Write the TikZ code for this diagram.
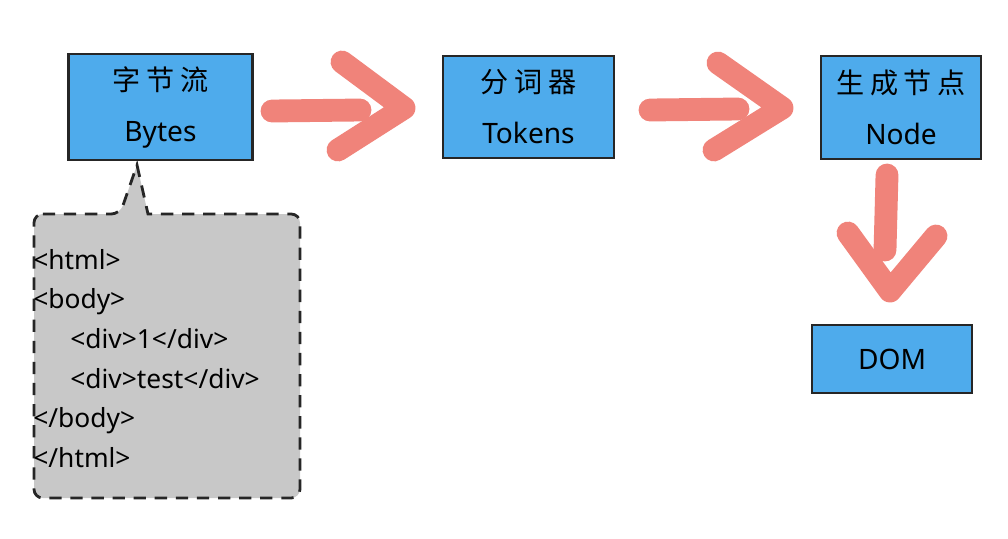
\documentclass[tikz,border=0pt]{standalone}
\usepackage{fontspec}
\setmainfont{Noto Sans}
\newfontfamily\cjk[LetterSpace=20]{Noto Sans CJK SC}
\usetikzlibrary{backgrounds}
\pgfdeclarelayer{edgelayer}
\pgfdeclarelayer{nodelayer}
\pgfsetlayers{edgelayer,nodelayer,main}
\definecolor{boxblue}{RGB}{78,171,236}
\definecolor{brushred}{RGB}{240,131,122}
\definecolor{notegray}{RGB}{200,200,200}
\tikzset{font=\fontsize{16}{19}\selectfont}
\tikzstyle{none}=[inner sep=0pt]
\tikzstyle{box}=[rectangle,draw=black!85,line width=1.6pt,fill=boxblue,align=center,inner sep=0pt]
\tikzstyle{code}=[anchor=mid west,inner sep=0pt,font=\fontsize{15}{18}\selectfont]
\tikzstyle{brush}=[draw=brushred,line width=13pt,line cap=round,line join=round]
\tikzstyle{note}=[draw=black!85,fill=notegray,line width=1.6pt,dash pattern=on 7pt off 5pt]

\begin{document}
\begin{tikzpicture}
	\useasboundingbox (0,0) rectangle (20.16,-10.76);
	\begin{pgfonlayer}{nodelayer}
		\node [style=box, minimum width=3.68cm, minimum height=2.12cm] (0) at (3.21, -2.14) {{\cjk 字节流}\\[10pt]Bytes};
		\node [style=box, minimum width=3.42cm, minimum height=2.04cm] (1) at (10.57, -2.14) {{\cjk 分词器}\\[10pt]Tokens};
		\node [style=box, minimum width=3.2cm, minimum height=2.06cm] (2) at (18.02, -2.15) {{\cjk 生成节点}\\[10pt]Node};
		\node [style=box, minimum width=3.2cm, minimum height=1.36cm] (3) at (17.84, -7.18) {DOM};
		\node [style=none] (4) at (0.68, -4.28) {};
		\node [style=none] (5) at (2.40, -4.28) {};
		\node [style=none] (6) at (2.74, -3.30) {};
		\node [style=none] (7) at (2.96, -4.28) {};
		\node [style=none] (8) at (6.00, -4.28) {};
		\node [style=none] (9) at (6.00, -9.96) {};
		\node [style=none] (10) at (0.68, -9.96) {};
		\node [style=none] (11) at (5.44, -2.22) {};
		\node [style=none] (12) at (7.20, -2.20) {};
		\node [style=none] (13) at (6.84, -1.24) {};
		\node [style=none] (14) at (8.08, -2.16) {};
		\node [style=none] (15) at (6.76, -3.00) {};
		\node [style=none] (16) at (13.00, -2.20) {};
		\node [style=none] (17) at (14.76, -2.18) {};
		\node [style=none] (18) at (14.36, -1.26) {};
		\node [style=none] (19) at (15.64, -2.16) {};
		\node [style=none] (20) at (14.28, -3.00) {};
		\node [style=none] (21) at (17.74, -3.50) {};
		\node [style=none] (22) at (17.70, -5.00) {};
		\node [style=none] (23) at (16.96, -4.66) {};
		\node [style=none] (24) at (17.80, -5.82) {};
		\node [style=none] (25) at (18.72, -4.72) {};
	\end{pgfonlayer}
	\begin{pgfonlayer}{edgelayer}
		\draw [style=note, rounded corners=5pt] (4.center) to (5.center) [sharp corners] -- (6.center) -- (7.center) [rounded corners=5pt] -- (8.center) -- (9.center) -- (10.center) -- cycle;
		\draw [style=brush] (11.center) to (12.center);
		\draw [style=brush] (13.center) -- (14.center) -- (15.center);
		\draw [style=brush] (16.center) to (17.center);
		\draw [style=brush] (18.center) -- (19.center) -- (20.center);
		\draw [style=brush] (21.center) to (22.center);
		\draw [style=brush] (23.center) -- (24.center) -- (25.center);
	\end{pgfonlayer}
	\node [style=code] (26) at (0.66, -5.30) {<html>};
	\node [style=code] (27) at (0.66, -6.08) {<body>};
	\node [style=code] (28) at (1.40, -6.88) {<div>1</div>};
	\node [style=code] (29) at (1.40, -7.68) {<div>test</div>};
	\node [style=code] (30) at (0.66, -8.46) {</body>};
	\node [style=code] (31) at (0.66, -9.26) {</html>};
\end{tikzpicture}
\end{document}
